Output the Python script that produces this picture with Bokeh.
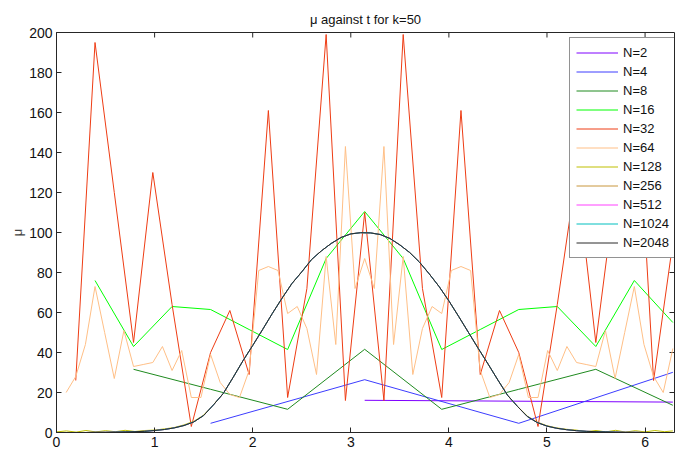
import numpy as np
from bokeh.plotting import figure
from bokeh.models import Range1d, Legend, LegendItem, Label, FixedTicker
from bokeh.embed import file_html
from bokeh.resources import INLINE

TWO_PI = 2 * np.pi

# ---- data ----
x_ticks = [0, 1, 2, 3, 4, 5, 6]
y_ticks = [0, 20, 40, 60, 80, 100, 120, 140, 160, 180, 200]

mu_2 = [16.1, 15.2]
mu_4 = [4.6, 26.4, 4.6, 30.1]
mu_8 = [31.6, 21.6, 11.6, 41.6, 11.6, 21.6, 31.6, 13.6]
mu_16 = [76, 43, 63, 61.5, 51.5, 41.5, 87, 110.5, 87, 41.5, 51.5, 61.5, 63, 43, 76, 55]
mu_32 = [26, 195, 120, 45, 130, 64, 3, 40, 61, 29, 161, 17.5, 72, 199, 16, 110,
         16, 199, 72, 17.5, 161, 29, 61, 40, 3, 64, 130, 45, 120, 195, 26, 95]
mu_64 = [20, 28, 44, 73, 50, 27, 51, 33, 34, 35, 43, 31, 41, 17.5, 17.5, 39,
         25, 19, 17.5, 31, 81, 83, 81, 59.5, 63, 52, 29, 88, 44, 143, 72, 87,
         72, 143, 44, 88, 29, 52, 63, 59.5, 81, 83, 81, 31, 17.5, 19, 25, 39,
         17.5, 17.5, 41, 31, 43, 35, 34, 33, 51, 27, 50, 73, 44, 28, 20, 42]

# fine curves sampled every 0.1 in t (last point at 2*pi)
t_fine = [round(0.1 * i, 1) for i in range(63)] + [TWO_PI]
mu_128 = [0.3, 0.8, 0.2, 1.0, 0.3, 0.9, 0.4, 1.1, 0.5, 1.0,
          1.2, 1.8, 2.5, 3.8, 5.6, 8.7, 13.9, 19.5, 27.5, 35.8,
          43.5, 51.4, 59.5, 67.2, 74.5, 80.3, 86.5, 90.8, 94.5, 97.5,
          99.3, 99.9, 99.8, 99.0, 97.0, 93.8, 90.0, 85.2, 79.3, 73.0,
          65.8, 58.0, 50.0, 42.0, 34.2, 26.2, 18.5, 13.0, 8.2, 5.2,
          3.4, 2.3, 1.6, 1.2, 0.4, 1.0, 0.3, 1.1, 0.2, 0.9,
          0.3, 1.0, 0.4, 0.8]
mu_2048 = [0, 0, 0, 0, 0.1, 0.1, 0.2, 0.3, 0.4, 0.6,
           1.0, 1.5, 2.3, 3.5, 5.3, 8.5, 13.8, 19.5, 27.5, 35.8,
           43.5, 51.4, 59.5, 67.2, 74.5, 80.3, 86.5, 90.8, 94.5, 97.5,
           99.3, 99.9, 99.8, 99.0, 97.0, 93.8, 90.0, 85.2, 79.3, 73.0,
           65.8, 58.0, 50.0, 42.0, 34.2, 26.2, 18.5, 13.0, 8.0, 5.0,
           3.2, 2.1, 1.4, 0.9, 0.6, 0.4, 0.3, 0.2, 0.1, 0.1,
           0, 0, 0, 0]
mu_256 = mu_2048
mu_512 = mu_2048
mu_1024 = mu_2048


def grid(n):
    return [TWO_PI * k / n for k in range(1, n + 1)]


t_2 = [np.pi, TWO_PI]

series = [
    ("N=2", t_2, mu_2, "#7f00ff"),
    ("N=4", grid(4), mu_4, "#3c3cff"),
    ("N=8", grid(8), mu_8, "#1f8a1f"),
    ("N=16", grid(16), mu_16, "#00ff00"),
    ("N=32", grid(32), mu_32, "#ee3c14"),
    ("N=64", grid(64), mu_64, "#ffbf86"),
    ("N=128", t_fine, mu_128, "#bfbf00"),
    ("N=256", t_fine, mu_256, "#c8963c"),
    ("N=512", t_fine, mu_512, "#ff40ff"),
    ("N=1024", t_fine, mu_1024, "#00bfbf"),
    ("N=2048", t_fine, mu_2048, "#2a2a2a"),
]

X_MAX = 6.3
Y_MAX = 200
FONT = "Liberation Sans"
AX = "#262626"

p = figure(width=675, height=452, output_backend="svg", toolbar_location=None,
           x_range=Range1d(0, X_MAX), y_range=Range1d(0, Y_MAX),
           min_border_left=56, min_border_right=1, min_border_top=32,
           min_border_bottom=20)
p.xgrid.visible = False
p.ygrid.visible = False
p.outline_line_color = AX
p.outline_line_width = 1

p.title.text = "\u03bc against t for k=50"
p.title.align = "center"
p.title.text_font = FONT
p.title.text_font_size = "13px"
p.title.text_font_style = "normal"
p.title.text_color = "#111111"
p.title.standoff = 11


def style_axis(ax, ticks):
    ax.ticker = FixedTicker(ticks=ticks)
    ax.major_tick_in = 5
    ax.major_tick_out = 0
    ax.minor_tick_line_color = None
    ax.major_tick_line_color = AX
    ax.axis_line_color = AX
    ax.major_label_text_font = FONT
    ax.major_label_text_color = "#111111"
    ax.major_label_text_font_size = "14px"
    ax.major_label_standoff = 4


style_axis(p.xaxis[0], x_ticks)
style_axis(p.yaxis[0], y_ticks)
p.yaxis.axis_label = "\u03bc"
p.yaxis.axis_label_text_font = FONT
p.yaxis.axis_label_text_font_size = "13px"
p.yaxis.axis_label_text_font_style = "normal"
p.yaxis.axis_label_standoff = 1

# inward ticks on the top and right edges of the box
p.ray(x=x_ticks[1:], y=[Y_MAX] * (len(x_ticks) - 1), length=5,
      length_units="screen", angle=-np.pi / 2, line_color=AX, line_width=1)
p.ray(x=[X_MAX] * (len(y_ticks) - 2), y=y_ticks[1:-1], length=5,
      length_units="screen", angle=np.pi, line_color=AX, line_width=1)

items = []
for name, t, mu, color in series:
    r = p.line(t, mu, line_color=color, line_width=1)
    items.append(LegendItem(label=name, renderers=[r]))

legend = Legend(items=items, location=(513, 174))
legend.label_text_font = FONT
legend.label_text_font_size = "13px"
legend.label_text_color = "#111111"
legend.glyph_width = 42
legend.glyph_height = 17
legend.label_height = 17
legend.spacing = 2
legend.padding = 6
legend.label_standoff = 5
legend.margin = 0
legend.border_line_color = AX
legend.border_line_width = 1
legend.background_fill_color = "white"
legend.background_fill_alpha = 1.0
p.add_layout(legend, "center")

p.add_layout(Label(x=3.25, y=-6, text="t", text_align="center",
                   text_baseline="middle", text_font=FONT,
                   text_font_size="13px", text_color="#111111"))

open("out.html", "w").write(file_html(p, INLINE))
